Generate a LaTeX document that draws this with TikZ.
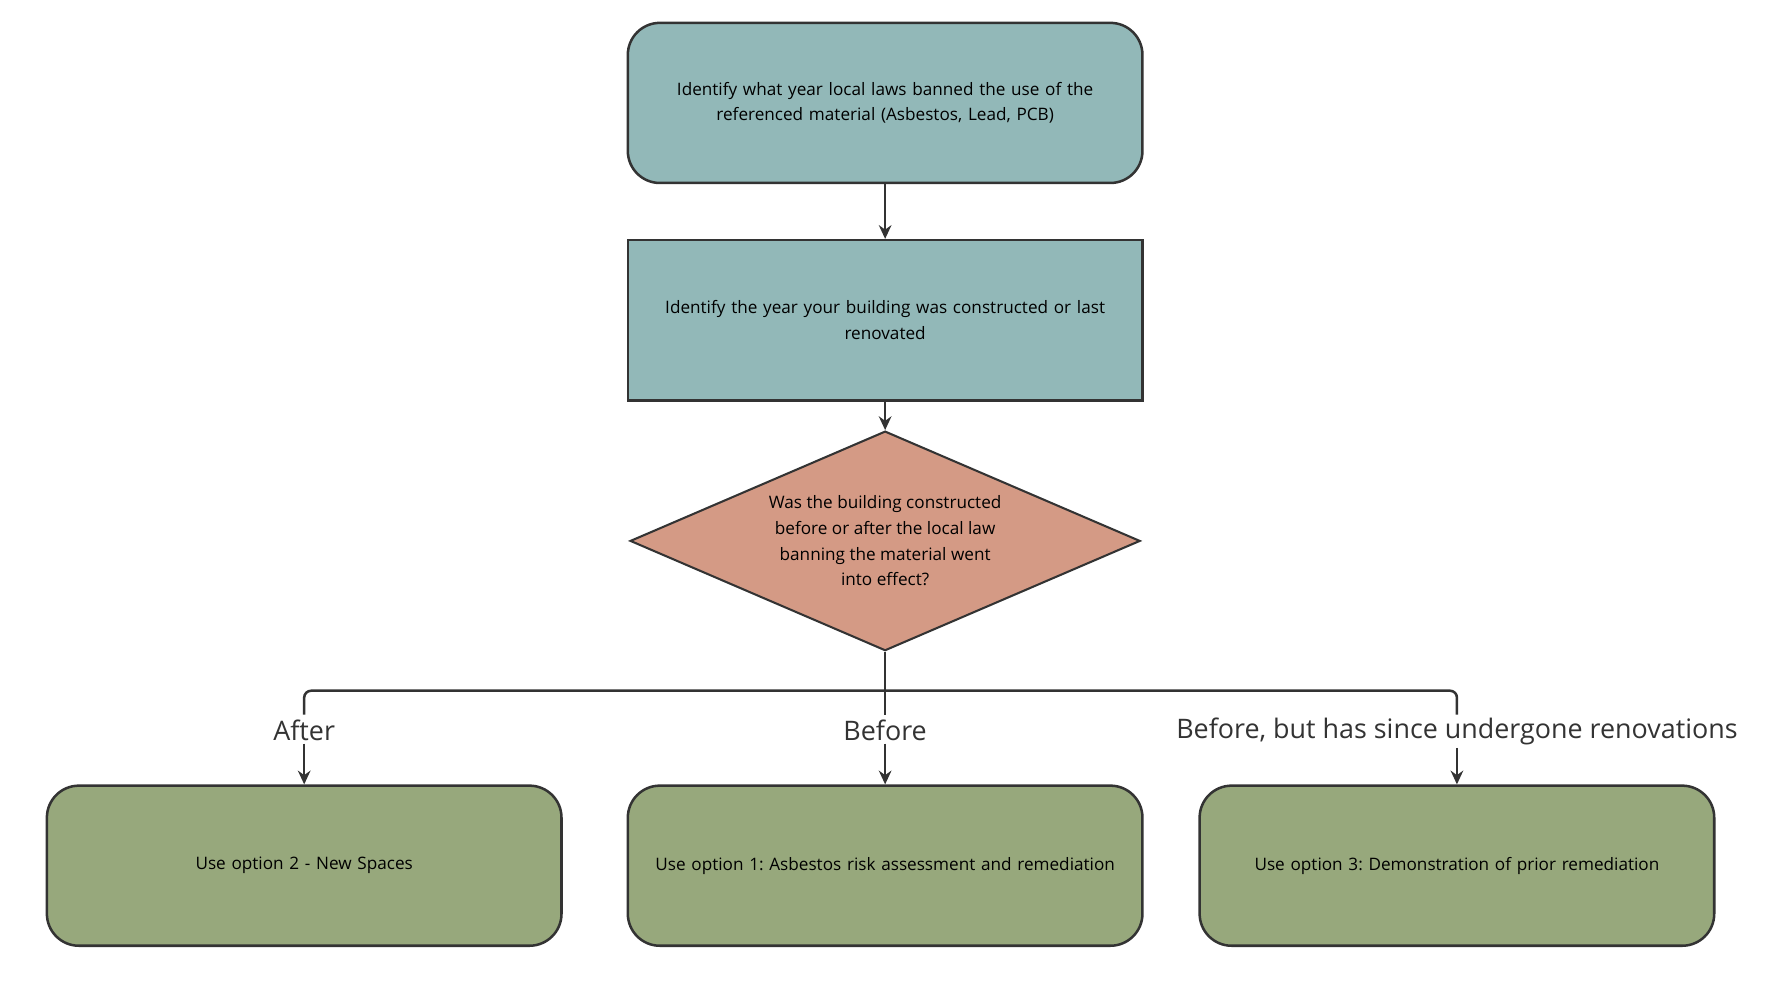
\documentclass[tikz,border=0pt]{standalone}
\usepackage{fontspec}
\setmainfont{Open Sans}
\usetikzlibrary{shapes.geometric,arrows.meta}
\definecolor{teal}{HTML}{92B8B8}
\definecolor{salmon}{HTML}{D49A85}
\definecolor{olive}{HTML}{97A87C}
\definecolor{ink}{HTML}{333333}
\begin{document}
\frenchspacing
\begin{tikzpicture}[x=1pt,y=-1pt,
  box/.style={draw=ink,line width=2.2pt,minimum width=450pt,minimum height=140pt,align=center,text width=430pt,font=\fontsize{15}{22.5}\selectfont},
  rbox/.style={box,rounded corners=28pt},
  dia/.style={diamond,draw=ink,line width=1.8pt,fill=salmon,minimum width=446pt,minimum height=192pt,aspect=2.32,inner sep=0pt,align=center,font=\fontsize{15}{22.5}\selectfont},
  arr/.style={draw=ink,line width=2.2pt,-{Stealth[length=12pt,width=11pt]}},
  ln/.style={draw=ink,line width=2.2pt,rounded corners=6pt},
  lab/.style={font=\fontsize{23.5}{26}\selectfont,text=ink,inner sep=2pt,fill=white}]
\useasboundingbox (0,0) rectangle (1567,859);
\node[rbox,fill=teal] (a) at (774,90) {Identify what year local laws banned the use of the\\referenced material (Asbestos, Lead, PCB)};
\node[box,fill=teal] (b) at (774,280) {Identify the year your building was constructed or last\\renovated};
\node[dia] (c) at (774,473) {Was the building constructed\\before or after the local law\\banning the material went\\into effect?};
\node[rbox,fill=olive] (d1) at (266,757) {Use option 2 - New Spaces};
\node[rbox,fill=olive] (d2) at (774,757) {Use option 1: Asbestos risk assessment and remediation};
\node[rbox,fill=olive] (d3) at (1274,757) {Use option 3: Demonstration of prior remediation};
\draw[arr] (a) -- (b);
\draw[arr] (b) -- (c);
\coordinate (j) at (774,604);
\draw[ln] (c.south) -- (j);
\draw[ln] (j) -- (266,604) -- (266,625);
\draw[ln] (j) -- (1274,604) -- (1274,625);
\draw[ln] (j) -- (774,625);
\node[lab] (l1) at (266,639) {After};
\node[lab] (l2) at (774,639) {Before};
\node[lab] (l3) at (1274,640) {Before, but has since undergone renovations};
\draw[arr] (l1.south) -- (d1.north);
\draw[arr] (l2.south) -- (d2.north);
\draw[arr] (l3.south) -- (d3.north);
\end{tikzpicture}
\end{document}
